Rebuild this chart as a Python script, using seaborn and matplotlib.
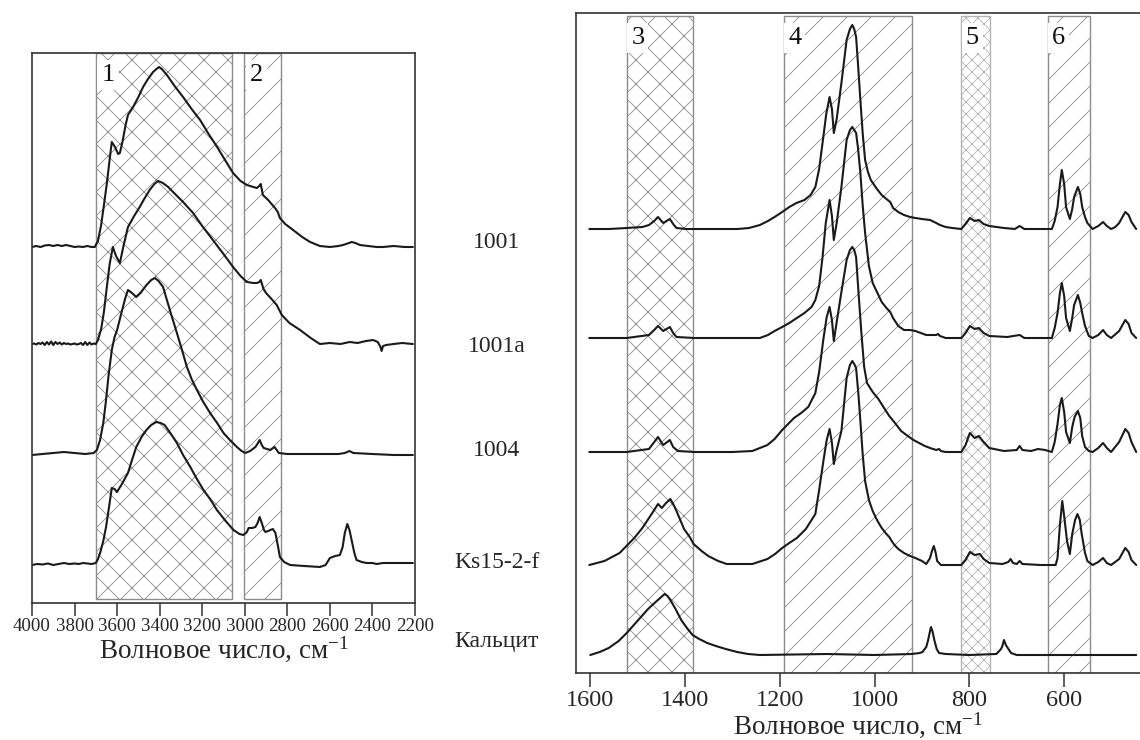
import matplotlib
matplotlib.use("Agg")
import matplotlib.pyplot as plt
import pandas as pd
import seaborn as sns

# ---------------- data (wavenumber, absorbance above own baseline) ----------------
SAMPLES = ["1001", "1001a", "1004", "Ks15-2-f", "Кальцит"]

LEFT_OFFSETS = {"1001": 3.56, "1001a": 2.59, "1004": 1.48, "Ks15-2-f": 0.38}
RIGHT_OFFSETS = {"1001": 4.44, "1001a": 3.35, "1004": 2.21, "Ks15-2-f": 1.08, "Кальцит": 0.18}

left_1001 = [(4000, 0.0), (3980, 0.01), (3960, 0.0), (3940, 0.015), (3920, 0.02), (3900, 0.01),
             (3880, 0.02), (3860, 0.01), (3840, 0.02), (3820, 0.01), (3800, 0.0), (3780, 0.005),
             (3760, 0.0), (3740, 0.01), (3720, 0.0), (3705, 0.0), (3690, 0.06), (3675, 0.22),
             (3660, 0.45), (3648, 0.64), (3636, 0.86), (3625, 1.05), (3610, 1.00), (3595, 0.93),
             (3587, 0.94), (3575, 1.05), (3560, 1.22), (3549, 1.32), (3525, 1.40), (3500, 1.50),
             (3478, 1.60), (3455, 1.68), (3431, 1.75), (3415, 1.78), (3403, 1.80), (3390, 1.78),
             (3366, 1.72), (3330, 1.61), (3290, 1.50), (3250, 1.38), (3210, 1.27), (3170, 1.13),
             (3130, 1.00), (3090, 0.86), (3055, 0.74), (3020, 0.66), (2990, 0.62), (2960, 0.60),
             (2943, 0.59), (2932, 0.61), (2925, 0.63), (2915, 0.52), (2890, 0.47), (2870, 0.42),
             (2858, 0.39), (2845, 0.35), (2835, 0.29), (2810, 0.23), (2773, 0.17), (2730, 0.10),
             (2693, 0.05), (2647, 0.01), (2600, 0.0), (2560, 0.01), (2538, 0.02), (2510, 0.04),
             (2498, 0.05), (2480, 0.04), (2459, 0.02), (2420, 0.01), (2380, 0.0), (2350, 0.0),
             (2300, 0.01), (2250, 0.0), (2210, 0.0)]

left_1001a = [(4000, 0.0), (3990, 0.005), (3980, -0.005), (3970, 0.01), (3960, 0.0), (3950, 0.015),
              (3940, -0.01), (3930, 0.02), (3920, -0.005), (3910, 0.025), (3900, -0.01),
              (3890, 0.02), (3880, 0.0), (3870, 0.015), (3860, -0.005), (3850, 0.01), (3840, 0.0),
              (3830, 0.005), (3820, -0.005), (3810, 0.0), (3800, 0.005), (3790, -0.005),
              (3780, 0.0), (3770, 0.01), (3760, -0.01), (3750, 0.02), (3740, -0.01),
              (3730, 0.015), (3720, -0.005), (3710, 0.005), (3700, 0.0), (3690, 0.04),
              (3675, 0.15), (3662, 0.32), (3650, 0.54), (3635, 0.80), (3620, 0.97), (3605, 0.88),
              (3587, 0.81), (3570, 0.98), (3549, 1.17), (3520, 1.28), (3494, 1.37), (3470, 1.46),
              (3447, 1.54), (3425, 1.60), (3407, 1.63), (3385, 1.61), (3360, 1.57), (3337, 1.52),
              (3290, 1.42), (3243, 1.31), (3200, 1.18), (3150, 1.04), (3100, 0.90), (3055, 0.77),
              (3020, 0.68), (2990, 0.62), (2960, 0.61), (2943, 0.61), (2932, 0.62), (2925, 0.64),
              (2912, 0.55), (2900, 0.51), (2870, 0.44), (2850, 0.39), (2826, 0.29), (2790, 0.21),
              (2740, 0.14), (2690, 0.06), (2647, 0.0), (2600, 0.01), (2550, 0.0), (2507, 0.02),
              (2470, 0.01), (2430, 0.03), (2397, 0.04), (2375, 0.02), (2362, -0.03),
              (2357, -0.07), (2350, -0.02), (2335, -0.01), (2300, 0.0), (2260, 0.01), (2210, 0.0)]

left_1004 = [(4000, 0.0), (3950, 0.01), (3900, 0.02), (3850, 0.03), (3800, 0.02), (3750, 0.01),
             (3710, 0.02), (3695, 0.05), (3680, 0.15), (3665, 0.32), (3652, 0.55), (3640, 0.80),
             (3625, 1.05), (3612, 1.18), (3600, 1.25), (3580, 1.42), (3560, 1.58), (3549, 1.65),
             (3530, 1.62), (3510, 1.58), (3490, 1.62), (3462, 1.70), (3440, 1.75), (3423, 1.77),
             (3405, 1.74), (3384, 1.68), (3366, 1.55), (3345, 1.40), (3319, 1.22), (3295, 1.05),
             (3272, 0.88), (3250, 0.76), (3225, 0.65), (3195, 0.53), (3163, 0.42), (3130, 0.32),
             (3100, 0.22), (3070, 0.15), (3037, 0.08), (3015, 0.04), (2998, 0.02), (2975, 0.04),
             (2950, 0.08), (2938, 0.12), (2930, 0.15), (2920, 0.10), (2911, 0.07), (2880, 0.05),
             (2860, 0.08), (2850, 0.05), (2840, 0.02), (2800, 0.01), (2750, 0.01), (2650, 0.01),
             (2560, 0.01), (2530, 0.02), (2508, 0.04), (2490, 0.02), (2400, 0.01), (2300, 0.0),
             (2210, 0.0)]

left_ks = [(4000, 0.0), (3975, 0.01), (3950, 0.005), (3925, 0.015), (3900, 0.0), (3875, 0.01),
           (3850, 0.02), (3825, 0.01), (3800, 0.015), (3780, 0.01), (3760, 0.02), (3740, 0.015),
           (3720, 0.01), (3700, 0.02), (3690, 0.06), (3680, 0.12), (3665, 0.24), (3652, 0.38),
           (3638, 0.58), (3625, 0.77), (3612, 0.76), (3601, 0.73), (3580, 0.80), (3549, 0.92),
           (3530, 1.05), (3510, 1.18), (3485, 1.28), (3462, 1.35), (3440, 1.40), (3416, 1.43),
           (3395, 1.42), (3377, 1.40), (3350, 1.32), (3319, 1.22), (3290, 1.10), (3256, 0.98),
           (3225, 0.86), (3194, 0.75), (3160, 0.65), (3131, 0.55), (3090, 0.44), (3053, 0.35),
           (3025, 0.31), (3006, 0.30), (2990, 0.33), (2982, 0.37), (2965, 0.37), (2950, 0.38),
           (2940, 0.42), (2930, 0.48), (2920, 0.42), (2910, 0.35), (2903, 0.33), (2890, 0.34),
           (2880, 0.35), (2868, 0.36), (2856, 0.32), (2845, 0.20), (2835, 0.08), (2815, 0.03),
           (2787, 0.0), (2720, -0.01), (2647, -0.02), (2620, 0.0), (2600, 0.07), (2575, 0.09),
           (2553, 0.10), (2540, 0.18), (2530, 0.32), (2518, 0.41), (2508, 0.35), (2498, 0.25),
           (2485, 0.12), (2475, 0.05), (2450, 0.03), (2428, 0.02), (2400, 0.02), (2380, 0.01),
           (2350, 0.02), (2300, 0.02), (2210, 0.02)]

right_1001 = [(1602, 0.0), (1560, 0.0), (1523, 0.01), (1490, 0.02), (1476, 0.04), (1465, 0.08),
              (1457, 0.12), (1446, 0.06), (1432, 0.10), (1425, 0.05), (1418, 0.01), (1398, 0.0),
              (1340, 0.0), (1289, 0.0), (1265, 0.01), (1242, 0.04), (1225, 0.08), (1211, 0.12),
              (1195, 0.17), (1180, 0.22), (1165, 0.26), (1148, 0.29), (1135, 0.34), (1125, 0.42),
              (1117, 0.60), (1109, 0.89), (1102, 1.15), (1095, 1.32), (1090, 1.20), (1086, 0.96),
              (1080, 1.10), (1070, 1.46), (1059, 1.89), (1052, 2.00), (1047, 2.04), (1043, 2.00),
              (1039, 1.92), (1035, 1.65), (1030, 1.29), (1025, 0.95), (1020, 0.69), (1014, 0.57),
              (1008, 0.49), (995, 0.40), (985, 0.34), (975, 0.30), (967, 0.27), (961, 0.21),
              (950, 0.17), (938, 0.14), (925, 0.12), (914, 0.11), (900, 0.10), (883, 0.09),
              (870, 0.06), (866, 0.05), (862, 0.04), (850, 0.02), (836, 0.01), (817, 0.0),
              (808, 0.05), (799, 0.11), (789, 0.08), (780, 0.09), (770, 0.05), (758, 0.03),
              (727, 0.01), (704, 0.0), (694, 0.03), (684, 0.0), (660, 0.0), (626, 0.0),
              (620, 0.08), (614, 0.22), (609, 0.45), (605, 0.59), (600, 0.45), (596, 0.22),
              (588, 0.10), (583, 0.20), (579, 0.32), (571, 0.42), (566, 0.35), (562, 0.22),
              (556, 0.12), (551, 0.06), (540, 0.0), (528, 0.03), (518, 0.07), (510, 0.03),
              (501, 0.0), (492, 0.02), (484, 0.06), (477, 0.12), (471, 0.17), (464, 0.14),
              (458, 0.07), (448, 0.0)]

right_1001a = [(1602, 0.0), (1523, 0.0), (1476, 0.03), (1465, 0.08), (1457, 0.12), (1446, 0.07),
               (1432, 0.11), (1425, 0.05), (1418, 0.01), (1380, 0.0), (1300, 0.0), (1242, 0.0),
               (1225, 0.03), (1211, 0.07), (1195, 0.11), (1180, 0.15), (1164, 0.20), (1148, 0.25),
               (1133, 0.31), (1125, 0.38), (1117, 0.52), (1110, 0.80), (1103, 1.15), (1095, 1.38),
               (1090, 1.22), (1086, 0.98), (1080, 1.15), (1070, 1.51), (1059, 1.98), (1052, 2.08),
               (1047, 2.11), (1043, 2.08), (1039, 2.05), (1035, 1.90), (1030, 1.65), (1025, 1.32),
               (1020, 1.05), (1012, 0.72), (1004, 0.55), (997, 0.48), (985, 0.36), (975, 0.30),
               (967, 0.26), (961, 0.20), (950, 0.12), (938, 0.08), (925, 0.08), (914, 0.07),
               (891, 0.03), (870, 0.03), (866, 0.04), (862, 0.02), (850, 0.0), (817, 0.0),
               (808, 0.05), (799, 0.12), (789, 0.09), (780, 0.10), (770, 0.05), (758, 0.02),
               (720, 0.01), (694, 0.03), (684, 0.0), (626, 0.0), (620, 0.10), (614, 0.25),
               (609, 0.45), (605, 0.55), (600, 0.42), (596, 0.20), (588, 0.07), (583, 0.20),
               (579, 0.33), (571, 0.43), (566, 0.35), (562, 0.25), (556, 0.12), (548, 0.02),
               (540, 0.0), (528, 0.03), (518, 0.08), (510, 0.03), (501, 0.0), (484, 0.07),
               (477, 0.13), (471, 0.18), (464, 0.14), (458, 0.05), (448, 0.0)]

right_1004 = [(1602, 0.0), (1523, 0.0), (1476, 0.03), (1465, 0.10), (1457, 0.15), (1446, 0.07),
              (1432, 0.12), (1425, 0.05), (1415, 0.01), (1380, 0.0), (1300, 0.0), (1258, 0.01),
              (1226, 0.07), (1211, 0.13), (1195, 0.22), (1170, 0.34), (1155, 0.39), (1140, 0.45),
              (1125, 0.59), (1117, 0.80), (1108, 1.13), (1101, 1.35), (1095, 1.45), (1090, 1.32),
              (1086, 1.11), (1080, 1.30), (1070, 1.60), (1059, 1.92), (1052, 2.02), (1047, 2.05),
              (1043, 2.02), (1039, 1.95), (1034, 1.60), (1028, 1.20), (1022, 0.85), (1016, 0.69),
              (1004, 0.60), (992, 0.53), (980, 0.44), (969, 0.36), (957, 0.29), (944, 0.21),
              (930, 0.16), (918, 0.12), (906, 0.09), (894, 0.06), (883, 0.04), (870, 0.02),
              (864, 0.03), (860, 0.01), (850, 0.0), (817, 0.0), (808, 0.07), (799, 0.19),
              (789, 0.14), (780, 0.16), (770, 0.10), (758, 0.04), (727, 0.01), (700, 0.02),
              (694, 0.06), (688, 0.02), (670, 0.01), (655, 0.03), (640, 0.02), (626, 0.0),
              (620, 0.10), (614, 0.28), (609, 0.47), (605, 0.54), (600, 0.40), (596, 0.20),
              (588, 0.09), (583, 0.25), (578, 0.35), (571, 0.41), (566, 0.34), (562, 0.16),
              (556, 0.05), (548, 0.01), (540, 0.0), (528, 0.04), (518, 0.09), (510, 0.04),
              (501, 0.0), (484, 0.10), (477, 0.17), (471, 0.23), (464, 0.19), (458, 0.10),
              (448, 0.0)]

right_ks = [(1602, 0.0), (1570, 0.04), (1538, 0.12), (1507, 0.27), (1490, 0.37), (1476, 0.47),
            (1465, 0.55), (1457, 0.61), (1449, 0.57), (1440, 0.62), (1431, 0.66), (1425, 0.61),
            (1418, 0.54), (1410, 0.45), (1402, 0.36), (1390, 0.28), (1382, 0.21), (1365, 0.14),
            (1351, 0.09), (1330, 0.04), (1312, 0.01), (1258, 0.01), (1226, 0.06), (1210, 0.11),
            (1195, 0.17), (1180, 0.22), (1164, 0.27), (1145, 0.36), (1125, 0.51), (1117, 0.75),
            (1108, 1.04), (1101, 1.25), (1095, 1.36), (1090, 1.22), (1086, 1.01), (1080, 1.15),
            (1070, 1.34), (1059, 1.87), (1052, 2.00), (1047, 2.04), (1043, 2.01), (1039, 1.97),
            (1034, 1.70), (1030, 1.44), (1025, 1.10), (1020, 0.84), (1012, 0.65), (1004, 0.54),
            (995, 0.45), (985, 0.37), (975, 0.31), (969, 0.28), (964, 0.24), (958, 0.20),
            (950, 0.16), (938, 0.12), (925, 0.09), (914, 0.07), (900, 0.04), (891, 0.01),
            (883, 0.07), (879, 0.14), (875, 0.19), (871, 0.12), (868, 0.04), (860, 0.0),
            (817, 0.0), (808, 0.05), (799, 0.13), (789, 0.10), (778, 0.11), (770, 0.06),
            (758, 0.02), (730, 0.01), (718, 0.03), (713, 0.06), (708, 0.02), (700, 0.01),
            (694, 0.04), (688, 0.01), (650, 0.0), (618, 0.0), (614, 0.07), (609, 0.40),
            (604, 0.64), (599, 0.45), (594, 0.24), (588, 0.11), (583, 0.31), (577, 0.45),
            (572, 0.51), (567, 0.45), (563, 0.31), (556, 0.12), (551, 0.04), (540, 0.0),
            (528, 0.03), (518, 0.07), (510, 0.02), (501, 0.0), (484, 0.06), (477, 0.12),
            (471, 0.17), (464, 0.13), (458, 0.05), (448, 0.0)]

right_calcite = [(1600, 0.0), (1580, 0.03), (1561, 0.07), (1540, 0.14), (1523, 0.22), (1508, 0.30),
                 (1493, 0.38), (1478, 0.46), (1462, 0.53), (1450, 0.58), (1443, 0.61), (1437, 0.59),
                 (1431, 0.55), (1420, 0.46), (1408, 0.35), (1396, 0.27), (1384, 0.20), (1370, 0.16),
                 (1353, 0.12), (1335, 0.09), (1314, 0.06), (1290, 0.03), (1267, 0.01), (1242, 0.0),
                 (1100, 0.01), (1000, 0.0), (922, 0.01), (905, 0.02), (899, 0.03), (891, 0.08),
                 (887, 0.15), (883, 0.24), (881, 0.28), (878, 0.24), (874, 0.15), (869, 0.06),
                 (864, 0.02), (850, 0.01), (800, 0.0), (743, 0.01), (735, 0.05), (731, 0.08),
                 (727, 0.15), (723, 0.10), (719, 0.07), (712, 0.02), (700, 0.0), (600, 0.0),
                 (448, 0.0)]

LEFT_SPECTRA = {"1001": left_1001, "1001a": left_1001a, "1004": left_1004, "Ks15-2-f": left_ks}
RIGHT_SPECTRA = {"1001": right_1001, "1001a": right_1001a, "1004": right_1004,
                 "Ks15-2-f": right_ks, "Кальцит": right_calcite}

# shaded band ranges (cm-1): label, start, end
LEFT_BANDS = [("1", 3700, 3060), ("2", 3004, 2830)]
RIGHT_BANDS = [("3", 1522, 1383), ("4", 1191, 921), ("5", 817, 757), ("6", 634, 545)]

LEFT_TICKS = list(range(4000, 2199, -200))
RIGHT_TICKS = [1600, 1400, 1200, 1000, 800, 600]
XLABEL = "Волновое число, см$^{-1}$"


def build_frame(spectra, offsets):
    rows = []
    for name, pts in spectra.items():
        for wn, a in pts:
            rows.append({"sample": name, "wn": wn, "y": offsets[name] + a})
    return pd.DataFrame(rows)


dfL = build_frame(LEFT_SPECTRA, LEFT_OFFSETS)
dfR = build_frame(RIGHT_SPECTRA, RIGHT_OFFSETS)

# ---------------- style ----------------
# Rendered at 72 dpi (1 pt = 1 px) so the hatch spacing matches the reference;
# K converts sizes tuned at 100 dpi.
DPI = 72
K = 100 / DPI

sns.set_style("white")
plt.rcParams["font.family"] = ["Liberation Serif", "DejaVu Serif"]
plt.rcParams["mathtext.fontset"] = "custom"
plt.rcParams["mathtext.rm"] = "Liberation Serif"
plt.rcParams["mathtext.it"] = "Liberation Serif:italic"
plt.rcParams["hatch.linewidth"] = 0.6 * K

W, H = 1140, 740
fig = plt.figure(figsize=(W / DPI, H / DPI), dpi=DPI)
axL = fig.add_axes([32 / W, (H - 603) / H, 383 / W, 550 / H])
axR = fig.add_axes([576 / W, (H - 673) / H, 564 / W, 660 / H])

hatches_L = {"1": ("x", "#8c8c8c"), "2": ("/", "#8c8c8c")}
hatches_R = {"3": ("x", "#8c8c8c"), "4": ("/", "#8c8c8c"),
             "5": ("xx", "#b4b4b4"), "6": ("/", "#8c8c8c")}


def draw_bands(ax, bands, styles, ymin, ymax, dx):
    for lab, a, b in bands:
        hatch, col = styles[lab]
        ax.axvspan(a, b, ymin=ymin, ymax=ymax, facecolor="white", edgecolor=col,
                   hatch=hatch, lw=1.0 * K, zorder=1)
        ax.annotate(lab, xy=(a, ymax), xycoords=("data", "axes fraction"),
                    xytext=(dx * K, -8 * K), textcoords="offset points", ha="left", va="top",
                    fontsize=19 * K, color="#111111", zorder=3,
                    bbox=dict(boxstyle="square,pad=0.15", fc="white", ec="none"))


draw_bands(axL, LEFT_BANDS, hatches_L, 4 / 550, 1.0, 4)
draw_bands(axR, RIGHT_BANDS, hatches_R, 0.0, (660 - 3) / 660, 3)

sns.lineplot(data=dfL, x="wn", y="y", units="sample", estimator=None, sort=False,
             color="#1a1a1a", lw=1.5 * K, ax=axL, zorder=2)
sns.lineplot(data=dfR, x="wn", y="y", units="sample", estimator=None, sort=False,
             color="#1a1a1a", lw=1.5 * K, ax=axR, zorder=2)

axL.set_xlim(4000, 2200)
axL.set_ylim(0, 5.5)
axR.set_xlim(1630, 440)
axR.set_ylim(0, 6.6)

for ax, ticks, fs, tl in [(axL, LEFT_TICKS, 13.6, 9), (axR, RIGHT_TICKS, 17.5, 10)]:
    ax.set_xticks(ticks)
    ax.set_xticklabels([str(t) for t in ticks])
    ax.set_yticks([])
    ax.set_ylabel("")
    ax.tick_params(axis="x", direction="out", length=tl * K, width=1.1 * K, color="#333333",
                   labelsize=fs * K, pad=2 * K, bottom=True)
    for s in ax.spines.values():
        s.set_color("#333333")
        s.set_linewidth(1.2 * K)

axR.spines["right"].set_visible(False)
axL.set_xlabel(XLABEL, fontsize=19.5 * K, labelpad=-1 * K)
axR.set_xlabel(XLABEL, fontsize=19.5 * K, labelpad=0)

label_y = {"1001": 243, "1001a": 347, "1004": 450, "Ks15-2-f": 562, "Кальцит": 642}
for name in SAMPLES:
    fig.text(497 / W, 1 - label_y[name] / H, name, ha="center", va="center", fontsize=17 * K)

fig.savefig("out.png", dpi=DPI, facecolor="white")
